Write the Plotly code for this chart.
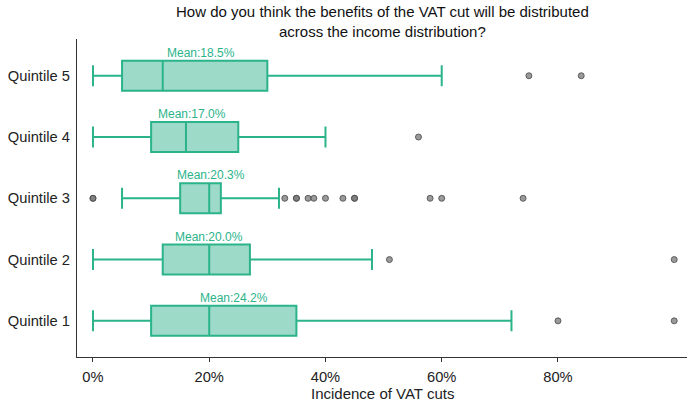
import plotly.graph_objects as go

categories = ["Quintile 1", "Quintile 2", "Quintile 3", "Quintile 4", "Quintile 5"]
lower_whisker = [0.00, 0.00, 0.05, 0.00, 0.00]
q1 = [0.10, 0.12, 0.15, 0.10, 0.05]
median = [0.20, 0.20, 0.20, 0.16, 0.12]
q3 = [0.35, 0.27, 0.22, 0.25, 0.30]
upper_whisker = [0.72, 0.48, 0.32, 0.40, 0.60]
means = [24.2, 20.0, 20.3, 17.0, 18.5]
outliers = {
    "Quintile 1": [0.80, 1.00],
    "Quintile 2": [0.51, 1.00],
    "Quintile 3": [0.00, 0.00, 0.33, 0.35, 0.35, 0.37, 0.38, 0.40, 0.43, 0.45, 0.45, 0.58, 0.60, 0.74],
    "Quintile 4": [0.56],
    "Quintile 5": [0.75, 0.84],
}
tick_vals = [0, 0.2, 0.4, 0.6, 0.8]
tick_text = ["0%", "20%", "40%", "60%", "80%"]
title_text = ("How do you think the benefits of the VAT cut will be distributed"
              "<br>across the income distribution?")

LINE = "#2bb38a"
FILL = "#9ddac8"
FONT = "Arial, Liberation Sans, sans-serif"

fig = go.Figure()
fig.add_trace(go.Box(
    y=categories, orientation="h",
    q1=q1, median=median, q3=q3,
    lowerfence=lower_whisker, upperfence=upper_whisker,
    boxpoints=False, width=0.49, whiskerwidth=0.7,
    fillcolor=FILL, line=dict(color=LINE, width=2),
    showlegend=False, hoverinfo="skip",
))

ox, oy = [], []
for c in categories:
    for v in outliers[c]:
        ox.append(v)
        oy.append(c)
fig.add_trace(go.Scatter(
    x=ox, y=oy, mode="markers", cliponaxis=False,
    marker=dict(size=6, color="rgba(120,120,120,0.75)",
                line=dict(color="rgba(70,70,70,0.8)", width=1)),
    showlegend=False,
))

for c, m in zip(categories, means):
    fig.add_annotation(
        x=m / 100, y=c, text=f"Mean:{m:.1f}%", showarrow=False,
        yshift=23, font=dict(family=FONT, size=12, color=LINE),
    )

fig.add_annotation(
    text=title_text, xref="paper", yref="paper", x=0.5, y=1, yshift=18,
    xanchor="center", yanchor="middle",
    showarrow=False, font=dict(family=FONT, size=15, color="#111"),
)
fig.add_annotation(
    text="Incidence of VAT cuts",
    xref="paper", yref="paper", x=0.5, y=0, yshift=-36, xanchor="center", yanchor="middle",
    showarrow=False, font=dict(family=FONT, size=15, color="#222"),
)

fig.update_layout(
    width=687, height=401,
    margin=dict(l=77, r=0, t=39, b=44),
    paper_bgcolor="white", plot_bgcolor="white",
    font=dict(family=FONT, size=14, color="#222"),
)
fig.update_xaxes(
    range=[-0.0275, 1.022], tickvals=tick_vals, ticktext=tick_text,
    showline=True, linecolor="#333", linewidth=1.3,
    ticks="outside", ticklen=4, tickcolor="#333",
    showgrid=False, zeroline=False, automargin=False,
    ticklabelstandoff=2,
    tickfont=dict(family=FONT, size=14.7, color="#222"),
)
fig.update_yaxes(
    categoryorder="array", categoryarray=categories,
    range=[-0.59, 4.6],
    showline=True, linecolor="#333", linewidth=1.3,
    showgrid=False, zeroline=False, ticks="", automargin=False,
    ticklabelstandoff=3,
    tickfont=dict(family=FONT, size=14.7, color="#222"),
)

fig.write_html("out.html", config={"displayModeBar": False},
               post_script="document.body.style.margin='0';")
